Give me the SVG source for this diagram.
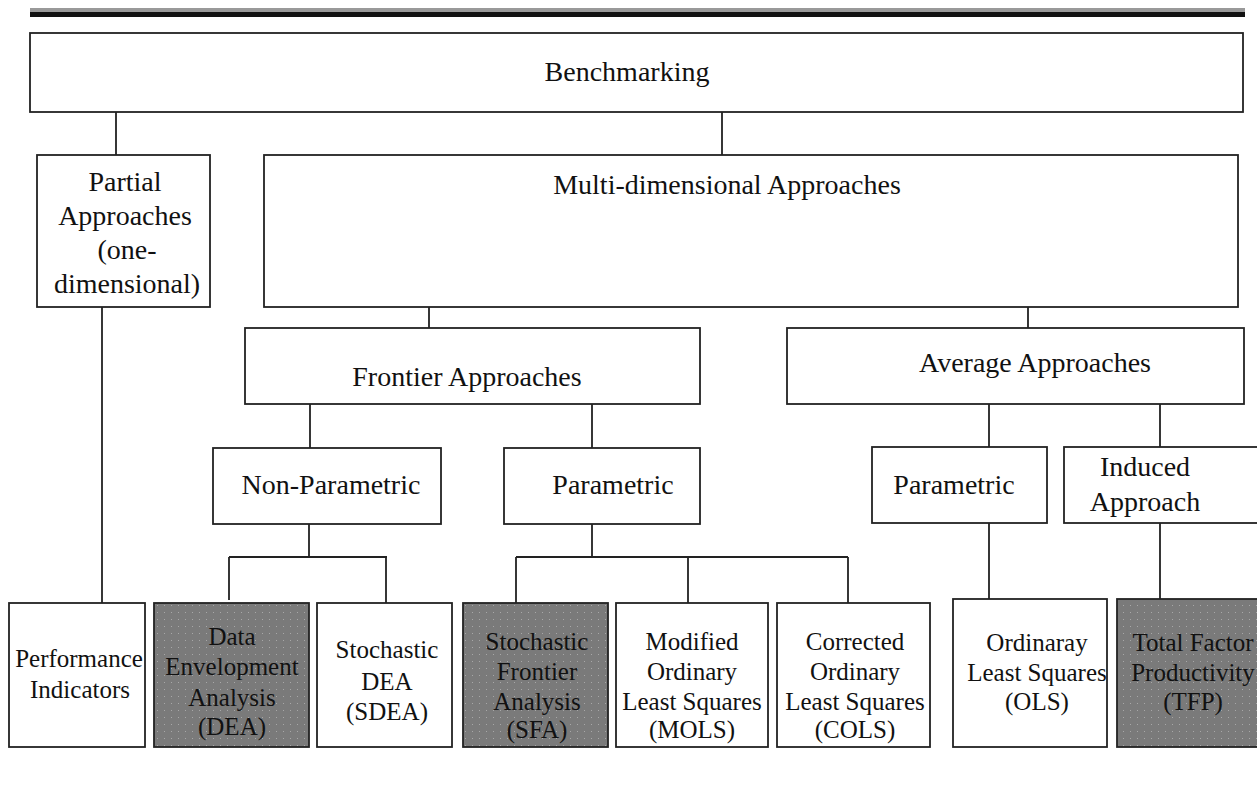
<svg xmlns="http://www.w3.org/2000/svg" width="1257" height="797" viewBox="0 0 1257 797">
<defs>
<pattern id="dots" width="7" height="7" patternUnits="userSpaceOnUse">
<rect width="7" height="7" fill="#7a7a7a"/>
<rect x="3" y="3" width="1" height="1" fill="#a8a8a8"/>
</pattern>
<style>
.box{fill:#fff;stroke:#222;stroke-width:1.8}
.shade{fill:url(#dots);stroke:#222;stroke-width:1.8}
.t{font-family:"Liberation Serif","Times New Roman",serif;font-size:28px;fill:#111;text-anchor:middle}
.s{font-family:"Liberation Serif","Times New Roman",serif;font-size:25px;fill:#111;text-anchor:middle}
.c{stroke:#222;stroke-width:1.8;fill:none}
</style>
</defs>
<rect width="1257" height="797" fill="#fff"/>
<g id="topbar">
<rect x="30" y="8" width="1215" height="4" fill="#999"/>
<rect x="30" y="12" width="1215" height="5" fill="#111"/>
</g>
<g id="connectors">
<path class="c" d="M116 112V155M722 112V155M102 307V603M429 307V328M1028 307V328M310 404V448M592 404V448M989 404V447M1160 404V447"/>
<path class="c" d="M309 524V557M229 557H387M229 557V600M386 557V606"/>
<path class="c" d="M592 524V557M516 557H848M516 557V603M688 557V603M848 557V603"/>
<path class="c" d="M989 523V599M1160 523V599"/>
</g>
<g id="benchmarking"><rect class="box" x="30" y="33" width="1213" height="79"/><text class="t" x="627" y="81">Benchmarking</text></g>
<g id="partial"><rect class="box" x="37" y="155" width="173" height="152"/>
<text class="t" x="125" y="191">Partial</text><text class="t" x="125" y="225">Approaches</text><text class="t" x="127" y="259">(one-</text><text class="t" x="127" y="293">dimensional)</text></g>
<g id="multi"><rect class="box" x="264" y="155" width="974" height="152"/><text class="t" x="727" y="194">Multi-dimensional Approaches</text></g>
<g id="frontier"><rect class="box" x="245" y="328" width="455" height="76"/><text class="t" x="467" y="386">Frontier Approaches</text></g>
<g id="average"><rect class="box" x="787" y="328" width="457" height="76"/><text class="t" x="1035" y="372">Average Approaches</text></g>
<g id="nonparam"><rect class="box" x="213" y="448" width="228" height="76"/><text class="t" x="331" y="494">Non-Parametric</text></g>
<g id="param1"><rect class="box" x="504" y="448" width="196" height="76"/><text class="t" x="613" y="494">Parametric</text></g>
<g id="param2"><rect class="box" x="872" y="447" width="175" height="76"/><text class="t" x="954" y="494">Parametric</text></g>
<g id="induced"><rect class="box" x="1064" y="447" width="200" height="76"/><text class="t" x="1145" y="476">Induced</text><text class="t" x="1145" y="511">Approach</text></g>
<g id="pi"><rect class="box" x="9" y="603" width="136" height="144"/><text class="s" x="79" y="667">Performance</text><text class="s" x="80" y="698">Indicators</text></g>
<g id="dea"><rect class="shade" x="154" y="603" width="155" height="144"/><text class="s" x="232" y="645">Data</text><text class="s" x="232" y="675">Envelopment</text><text class="s" x="232" y="706">Analysis</text><text class="s" x="232" y="735">(DEA)</text></g>
<g id="sdea"><rect class="box" x="317" y="603" width="135" height="144"/><text class="s" x="387" y="658">Stochastic</text><text class="s" x="387" y="690">DEA</text><text class="s" x="387" y="720">(SDEA)</text></g>
<g id="sfa"><rect class="shade" x="463" y="603" width="145" height="144"/><text class="s" x="537" y="650">Stochastic</text><text class="s" x="537" y="680">Frontier</text><text class="s" x="537" y="710">Analysis</text><text class="s" x="537" y="738">(SFA)</text></g>
<g id="mols"><rect class="box" x="616" y="603" width="152" height="144"/><text class="s" x="692" y="650">Modified</text><text class="s" x="692" y="680">Ordinary</text><text class="s" x="692" y="710">Least Squares</text><text class="s" x="692" y="738">(MOLS)</text></g>
<g id="cols"><rect class="box" x="777" y="603" width="153" height="144"/><text class="s" x="855" y="650">Corrected</text><text class="s" x="855" y="680">Ordinary</text><text class="s" x="855" y="710">Least Squares</text><text class="s" x="855" y="738">(COLS)</text></g>
<g id="ols"><rect class="box" x="953" y="599" width="154" height="148"/><text class="s" x="1037" y="651">Ordinaray</text><text class="s" x="1037" y="681">Least Squares</text><text class="s" x="1037" y="710">(OLS)</text></g>
<g id="tfp"><rect class="shade" x="1117" y="599" width="150" height="148"/><text class="s" x="1193" y="651">Total Factor</text><text class="s" x="1193" y="681">Productivity</text><text class="s" x="1193" y="710">(TFP)</text></g>
</svg>
